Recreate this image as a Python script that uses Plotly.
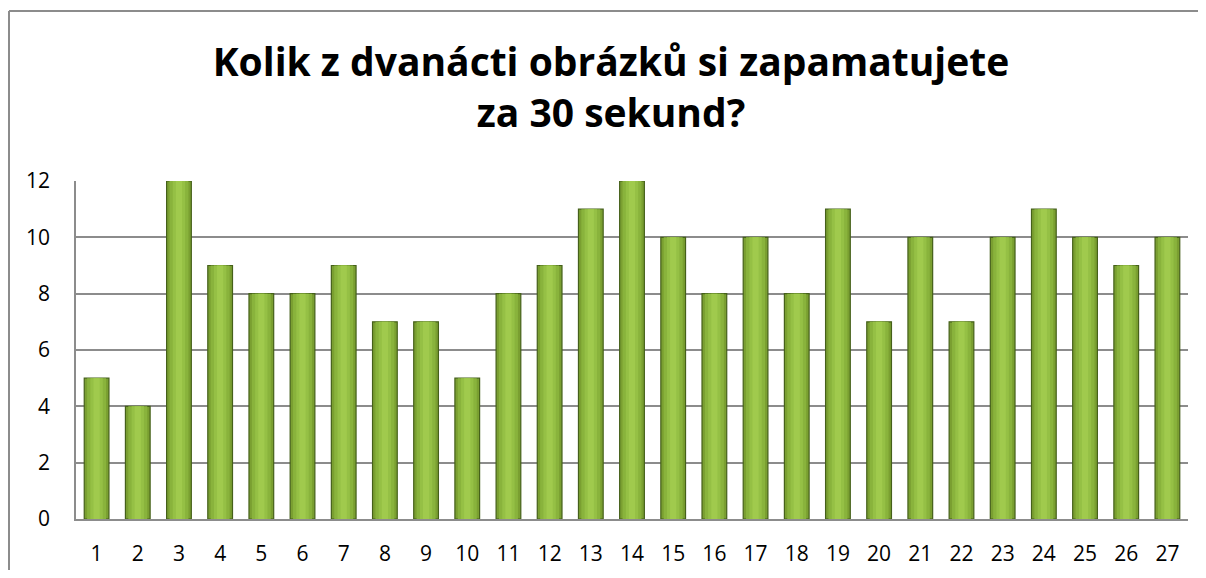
import plotly.graph_objects as go

categories = [str(i) for i in range(1, 28)]
values = [5, 4, 12, 9, 8, 8, 9, 7, 7, 5, 8, 9, 11, 12, 10, 8, 10, 8, 11, 7, 10, 7, 10, 11, 10, 9, 10]
title_text = "Kolik z dvanácti obrázků si zapamatujete<br>za 30 sekund?"

# the page body has an 8px margin; figure coordinates are page coordinates minus 8
OFF = 8
W, H = 1206 - 2 * OFF, 578 - 2 * OFF
L = 76 - OFF
T = 181 - OFF
R = W - (1188 - OFF)
B = H - (519 - OFF)
pw, ph = W - L - R, H - T - B

FONT = "Open Sans, Liberation Sans, Arial, sans-serif"

fig = go.Figure()
# layered bars to imitate the horizontal gradient of the bevelled bars
layers = [
    (0.60, "#7A9F31", dict(color="#45601A", width=1.2)),
    (0.46, "#89B33C", dict(width=0)),
    (0.30, "#95C045", dict(width=0)),
    (0.15, "#A0CA4D", dict(width=0)),
]
for w, c, ln in layers:
    fig.add_trace(go.Bar(
        x=categories, y=values, width=w,
        marker=dict(color=c, line=ln),
        hoverinfo="skip" if w != 0.60 else None,
        showlegend=False,
    ))

fig.update_layout(
    width=W, height=H,
    barmode="overlay",
    plot_bgcolor="white", paper_bgcolor="white",
    margin=dict(l=L, r=R, t=T, b=B, autoexpand=False),
    font=dict(family=FONT, color="#000000", size=21),
    title=dict(
        text="<b>" + title_text + "</b>",
        x=(611 - OFF) / W, xanchor="center",
        yref="container", y=1 - (76 - OFF) / H, yanchor="middle",
        font=dict(size=39, family=FONT, color="#000000"),
        automargin=False,
    ),
    xaxis=dict(
        type="category", automargin=False,
        showgrid=False,
        showline=True, linecolor="#8C8C8C", linewidth=1.5,
        ticks="", ticklabelstandoff=15,
        tickfont=dict(size=21),
    ),
    yaxis=dict(
        automargin=False,
        range=[0, 12], tickvals=[0, 2, 4, 6, 8, 10, 12],
        showgrid=True, gridcolor="#8C8C8C", gridwidth=1.5,
        showline=True, linecolor="#8C8C8C", linewidth=1.5,
        zeroline=False,
        ticks="", ticklabelstandoff=20,
        tickfont=dict(size=21),
    ),
)

# chart outer border (left and top visible)
x0 = (1 - L) / pw
x1 = (W + 10 - L) / pw
y_top = (H - B - 3) / ph
y_bot = (H - B - H - 10) / ph
fig.add_shape(type="line", xref="paper", yref="paper", x0=x0, x1=x0, y0=y_bot, y1=y_top,
              line=dict(color="#8C8C8C", width=2))
fig.add_shape(type="line", xref="paper", yref="paper", x0=x0, x1=x1, y0=y_top, y1=y_top,
              line=dict(color="#8C8C8C", width=2))

fig.write_html("out.html")
